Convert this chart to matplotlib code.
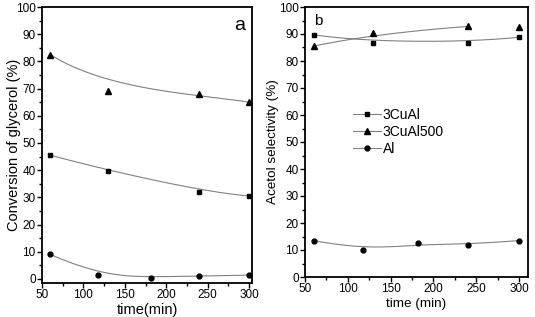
import numpy as np
import matplotlib
matplotlib.use("Agg")
import matplotlib.pyplot as plt
from matplotlib.ticker import MultipleLocator
from matplotlib.lines import Line2D

plt.rcParams['font.family'] = ['Liberation Sans', 'DejaVu Sans']

# Panel a: conversion of glycerol
t_cu = [60, 130, 240, 300]
conv_3CuAl = [45.5, 39.8, 32.0, 30.5]
conv_3CuAl500 = [82.5, 69.0, 68.0, 65.0]
t_al = [60, 118, 182, 240, 300]
conv_Al = [9.0, 1.3, 0.5, 1.1, 1.4]

# Panel b: acetol selectivity
sel_3CuAl = [89.7, 86.5, 86.8, 88.8]
sel_3CuAl500 = [85.5, 90.2, 92.8, 92.5]
sel_Al = [13.5, 10.0, 12.5, 12.0, 13.5]

labels = ['3CuAl', '3CuAl500', 'Al']

W, H = 535, 317
fig = plt.figure(figsize=(W / 100, H / 100), dpi=100)
axa = fig.add_axes([42 / W, 1 - 283 / H, 210 / W, 276 / H])
axb = fig.add_axes([305 / W, 1 - 277 / H, 223 / W, 270 / H])

LC = '#808080'
MS = 4


def bspline(x, y, n=300):
    """Clamped B-spline using data points as control points (Origin style)."""
    P = np.column_stack([x, y]).astype(float)
    m = len(P)
    k = min(3, m - 1)
    knots = np.concatenate([np.zeros(k), np.linspace(0, 1, m - k + 1), np.ones(k)])
    u = np.linspace(0, 1, n)
    u[-1] = 1 - 1e-10

    def basis(i, p, t):
        if p == 0:
            return ((knots[i] <= t) & (t < knots[i + 1])).astype(float)
        a = np.zeros_like(t)
        d1 = knots[i + p] - knots[i]
        d2 = knots[i + p + 1] - knots[i + 1]
        if d1 > 0:
            a += (t - knots[i]) / d1 * basis(i, p - 1, t)
        if d2 > 0:
            a += (knots[i + p + 1] - t) / d2 * basis(i + 1, p - 1, t)
        return a

    B = np.array([basis(i, k, u) for i in range(m)])
    C = B.T @ P
    return C[:, 0], C[:, 1]


def curve(ax, x, y):
    cx, cy = bspline(x, y)
    ax.plot(cx, cy, color=LC, lw=0.8, zorder=1)


# panel a
curve(axa, t_cu, conv_3CuAl500)
curve(axa, t_cu, conv_3CuAl)
curve(axa, t_al, conv_Al)
axa.plot(t_cu, conv_3CuAl500, '^', color='black', ms=MS, zorder=3)
axa.plot(t_cu, conv_3CuAl, 's', color='black', ms=MS - 0.5, zorder=3)
axa.plot(t_al, conv_Al, 'o', color='black', ms=MS - 0.5, zorder=3)

axa.set_xlim(50, 303.6)
axa.set_ylim(-1.5, 100)
axa.set_xlabel('time(min)', fontsize=10.5, labelpad=1)
axa.set_ylabel('Conversion of glycerol (%)', fontsize=10.5)
axa.yaxis.set_label_coords(-21 / 210, 0.5)
axa.text(0.965, 0.965, 'a', transform=axa.transAxes, fontsize=14,
         ha='right', va='top')

# panel b
curve(axb, t_cu, sel_3CuAl)
curve(axb, t_cu[:3], sel_3CuAl500[:3])
curve(axb, t_al, sel_Al)
axb.plot(t_cu, sel_3CuAl, 's', color='black', ms=MS - 0.5, zorder=3)
axb.plot(t_cu, sel_3CuAl500, '^', color='black', ms=MS, zorder=3)
axb.plot(t_al, sel_Al, 'o', color='black', ms=MS - 0.5, zorder=3)

axb.set_xlim(50, 310.5)
axb.set_ylim(0, 100)
axb.set_xlabel('time (min)', fontsize=9.7, labelpad=2)
axb.set_ylabel('Acetol selectivity (%)', fontsize=9.7)
axb.yaxis.set_label_coords(-26 / 223, 0.5)
axb.text(0.04, 0.975, 'b', transform=axb.transAxes, fontsize=11,
         ha='left', va='top')

# legend
handles = [Line2D([], [], color=LC, lw=0.8, marker=m, mfc='black',
                  mec='black', ms=s)
           for m, s in (('s', MS - 0.5), ('^', MS), ('o', MS - 0.5))]
axb.legend(handles, labels, loc='upper left', bbox_to_anchor=(0.215, 0.625),
           frameon=False, fontsize=10, handlelength=2.0, handletextpad=0.15,
           labelspacing=0.2, borderpad=0, borderaxespad=0)

for ax in (axa, axb):
    ax.xaxis.set_major_locator(MultipleLocator(50))
    ax.xaxis.set_minor_locator(MultipleLocator(25))
    ax.yaxis.set_major_locator(MultipleLocator(10))
    ax.yaxis.set_minor_locator(MultipleLocator(5))
    ax.tick_params(which='both', direction='out', labelsize=8.5,
                   top=False, right=False, width=1)
    ax.tick_params(which='major', length=3.5, pad=1)
    ax.tick_params(which='minor', length=2)
    for s in ax.spines.values():
        s.set_linewidth(1.3)

fig.savefig('out.png', dpi=100)
